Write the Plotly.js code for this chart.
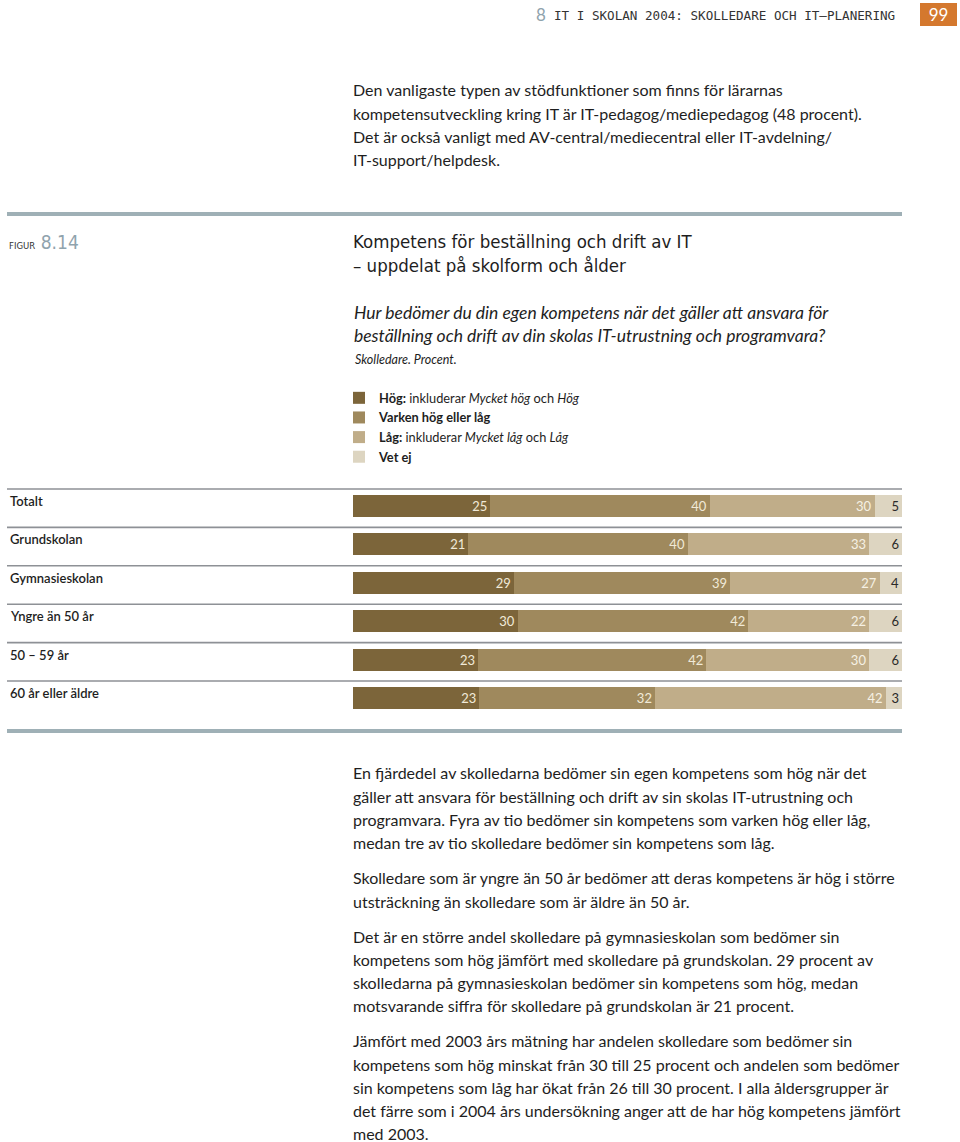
<!DOCTYPE html>
<html>
<head>
<meta charset="utf-8">
<script src="https://cdn.plot.ly/plotly-3.0.1.min.js"></script>
<style>
  html, body { margin: 0; padding: 0; background: #fff; }
  #page { position: relative; width: 960px; height: 1142px; overflow: hidden; }
  #chart { position: absolute; left: 0; top: 0; width: 960px; height: 1142px; }
  .prose { position: absolute; left: 353px; font-family: Lato, "Noto Sans", sans-serif; font-size: 16px; line-height: 23.3px; color: #1e1e1e; white-space: nowrap; }
  .prose p { margin: 0 0 11.7px 0; }
  .prose p.last { margin: 0; }
  .prose .lastline { display: block; line-height: 16px; margin-top: 3.7px; }
  #hdr-num { position: absolute; left: 536px; top: 4px; font-family: Lato, sans-serif; font-size: 17px; color: #8fa3ad; }
  #hdr-txt { position: absolute; left: 554px; top: 8px; font-family: "DejaVu Sans Mono", "Liberation Mono", monospace; font-size: 12.6px; color: #333; }
  #hdr-box { position: absolute; left: 920px; top: 3px; width: 37px; height: 23px; background: #d4782e; color: #fff; font-family: Lato, sans-serif; font-size: 17px; text-align: center; line-height: 23px; }
</style>
</head>
<body>
<div id="page">
  <div id="chart"></div>
  <div id="hdr-num">8</div>
  <div id="hdr-txt">IT I SKOLAN 2004: SKOLLEDARE OCH IT–PLANERING</div>
  <div id="hdr-box">99</div>
  <div class="prose" style="top:78.4px;">
    <p>Den vanligaste typen av stödfunktioner som finns för lärarnas<br>kompetensutveckling kring IT är IT-pedagog/mediepedagog (48 procent).<br>Det är också vanligt med AV-central/mediecentral eller IT-avdelning/<br>IT-support/helpdesk.</p>
  </div>
  <div class="prose" style="top:761.4px;">
    <p>En fjärdedel av skolledarna bedömer sin egen kompetens som hög när det<br>gäller att ansvara för beställning och drift av sin skolas IT-utrustning och<br>programvara. Fyra av tio bedömer sin kompetens som varken hög eller låg,<br>medan tre av tio skolledare bedömer sin kompetens som låg.</p>
    <p>Skolledare som är yngre än 50 år bedömer att deras kompetens är hög i större<br>utsträckning än skolledare som är äldre än 50 år.</p>
    <p>Det är en större andel skolledare på gymnasieskolan som bedömer sin<br>kompetens som hög jämfört med skolledare på grundskolan. 29 procent av<br>skolledarna på gymnasieskolan bedömer sin kompetens som hög, medan<br>motsvarande siffra för skolledare på grundskolan är 21 procent.</p>
    <p class="last">Jämfört med 2003 års mätning har andelen skolledare som bedömer sin<br>kompetens som hög minskat från 30 till 25 procent och andelen som bedömer<br>sin kompetens som låg har ökat från 26 till 30 procent. I alla åldersgrupper är<br>det färre som i 2004 års undersökning anger att de har hög kompetens jämfört<span class="lastline">med 2003.</span></p>
  </div>
</div>
<script>
// ---- data ----
var categories = ['Totalt', 'Grundskolan', 'Gymnasieskolan', 'Yngre än 50 år', '50 – 59 år', '60 år eller äldre'];
var hog    = [25, 21, 29, 30, 23, 23];
var varken = [40, 40, 39, 42, 42, 32];
var lag    = [30, 33, 27, 22, 30, 42];
var vetej  = [5, 6, 4, 6, 6, 3];
var seriesNames = [
  '<b>Hög:</b> inkluderar <i>Mycket hög</i> och <i>Hög</i>',
  '<b>Varken hög eller låg</b>',
  '<b>Låg:</b> inkluderar <i>Mycket låg</i> och <i>Låg</i>',
  '<b>Vet ej</b>'
];

// ---- styling ----
var W = 960, H = 1142;
var colors = ['#7c653a', '#9f895d', '#c0ad89', '#ddd5c1'];
var textColors = ['#f1ead8', '#f1ead8', '#f6f1e4', '#2a2a2a'];
var FONT = 'Lato, "Noto Sans", sans-serif';
var COND = '"Liberation Sans Narrow", "DejaVu Sans Condensed", "Arial Narrow", sans-serif';
function py(pix) { return 1 - pix / H; }
function px(pix) { return pix / W; }

var seriesVals = [hog, varken, lag, vetej];
var traces = seriesVals.map(function (vals, i) {
  return {
    type: 'bar',
    orientation: 'h',
    y: categories,
    x: vals,
    name: seriesNames[i],
    marker: { color: colors[i], line: { width: 0 } },
    text: vals.map(String),
    textposition: 'inside',
    insidetextanchor: 'end',
    textangle: 0,
    constraintext: 'none',
    textfont: { family: FONT, size: 13, color: textColors[i] },
    hoverinfo: 'skip'
  };
});

var annotations = [];
categories.forEach(function (c, i) {
  annotations.push({
    xref: 'paper', yref: 'y', x: px(8), y: i, xanchor: 'left', yanchor: 'middle',
    yshift: 5, text: c, showarrow: false,
    font: { family: FONT, size: 13, color: '#1e1e1e', weight: 600 }
  });
});
annotations.push({
  xref: 'paper', yref: 'paper', x: px(7), y: py(242), xanchor: 'left', yanchor: 'middle',
  text: '<span style="font-size:9.5px;color:#333">FIGUR</span> <span style="color:#8fa3ad">8.14</span>',
  showarrow: false, font: { family: COND, size: 19, color: '#8fa3ad' }
});
annotations.push({
  xref: 'paper', yref: 'paper', x: px(352), y: py(300), xanchor: 'left', yanchor: 'top', align: 'left',
  text: '<i>Hur bedömer du din egen kompetens när det gäller att ansvara för<br>beställning och drift av din skolas IT-utrustning och programvara?</i>',
  showarrow: false, font: { family: FONT, size: 17.5, color: '#1e1e1e' }
});
annotations.push({
  xref: 'paper', yref: 'paper', x: px(353), y: py(359), xanchor: 'left', yanchor: 'middle', align: 'left',
  text: '<i>Skolledare. Procent.</i>',
  showarrow: false, font: { family: FONT, size: 12.5, color: '#1e1e1e' }
});

var shapes = [];
categories.forEach(function (c, i) {
  shapes.push({
    type: 'line', xref: 'paper', yref: 'y', x0: px(7), x1: px(902), y0: i - 0.443, y1: i - 0.443,
    line: { color: '#8e9196', width: 1.6 }
  });
});
shapes.push({ type: 'line', xref: 'paper', yref: 'paper', x0: px(7), x1: px(902), y0: py(214), y1: py(214), line: { color: '#9fb0b6', width: 4 } });
shapes.push({ type: 'line', xref: 'paper', yref: 'paper', x0: px(7), x1: px(902), y0: py(731), y1: py(731), line: { color: '#9fb0b6', width: 4 } });

var layout = {
  width: W, height: H,
  margin: { l: 0, r: 0, t: 0, b: 0, pad: 0 },
  paper_bgcolor: 'rgba(0,0,0,0)', plot_bgcolor: 'rgba(0,0,0,0)',
  barmode: 'stack', barnorm: 'percent', bargap: 0.427,
  font: { family: FONT, color: '#1e1e1e' },
  title: {
    text: 'Kompetens för beställning och drift av IT<br>– uppdelat på skolform och ålder',
    x: px(353), xanchor: 'left', xref: 'paper', y: py(248), yanchor: 'top',
    font: { family: COND, size: 18.5, color: '#1e1e1e' }
  },
  xaxis: { domain: [px(353), px(902)], range: [0, 100], visible: false, fixedrange: true },
  yaxis: { domain: [py(717.2), py(486.8)], type: 'category', range: [5.5, -0.5], visible: false, fixedrange: true },
  showlegend: true,
  legend: {
    x: px(339), y: py(383), xanchor: 'left', yanchor: 'top', orientation: 'v', traceorder: 'normal',
    bgcolor: 'rgba(0,0,0,0)', borderwidth: 0,
    font: { family: FONT, size: 12.8, color: '#1e1e1e' }
  },
  annotations: annotations,
  shapes: shapes
};

Plotly.newPlot('chart', traces, layout, { displayModeBar: false, staticPlot: true });
</script>
</body>
</html>
